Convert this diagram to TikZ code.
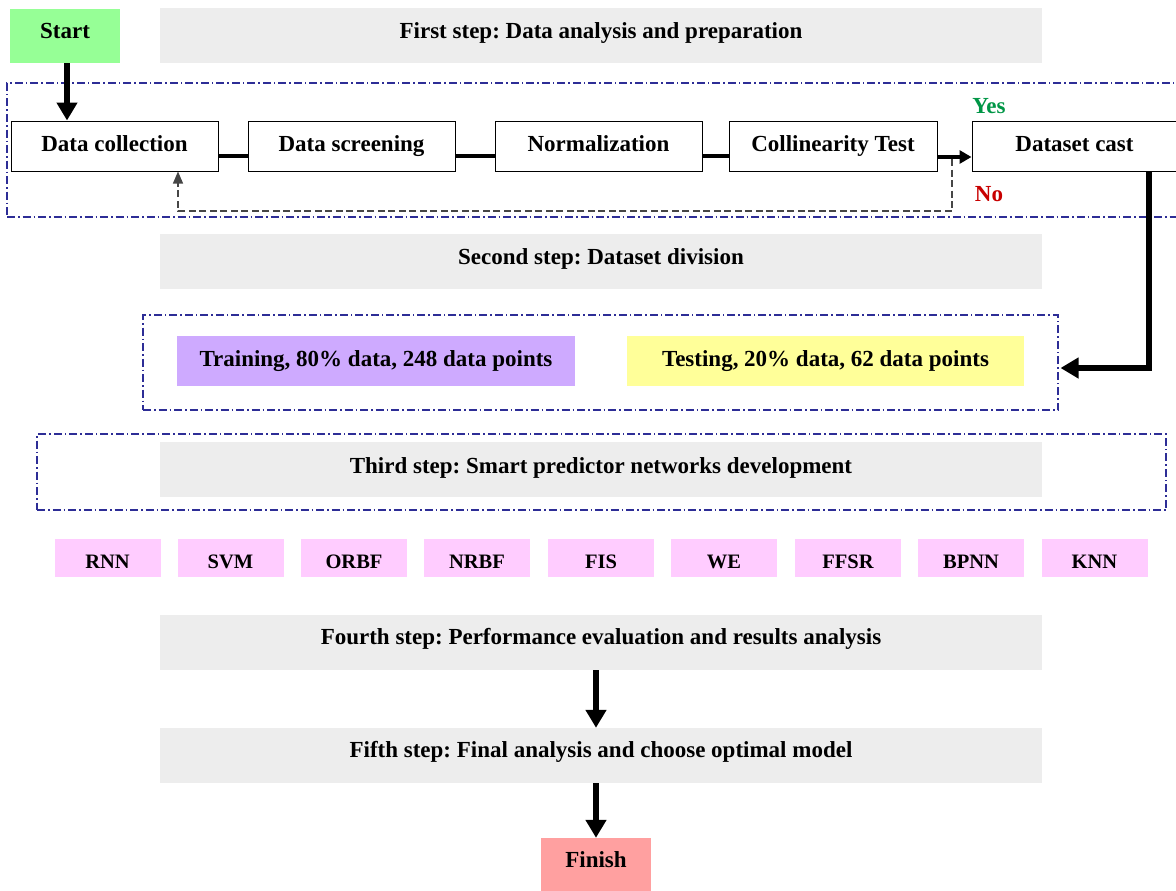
\documentclass[tikz,border=0pt]{standalone}
\usepackage{fontspec}
\setmainfont{Liberation Serif}
\usetikzlibrary{arrows.meta}
\definecolor{startgreen}{RGB}{150,255,150}
\definecolor{hdrgray}{RGB}{237,237,237}
\definecolor{trainpurple}{RGB}{206,170,255}
\definecolor{testyellow}{RGB}{255,255,153}
\definecolor{modelpink}{RGB}{255,204,255}
\definecolor{finishred}{RGB}{255,160,160}
\definecolor{framenavy}{RGB}{45,45,150}
\definecolor{yesgreen}{RGB}{0,150,70}
\definecolor{nored}{RGB}{200,0,0}
\definecolor{fbgray}{RGB}{70,70,70}
\frenchspacing
\tikzset{
  bigfont/.style={font=\fontsize{23}{27}\selectfont\bfseries, text height=16pt, text depth=5pt},
  txt/.style={inner sep=0pt, bigfont},
  fillbox/.style={draw=none, fill=#1, inner sep=0pt, bigfont},
  procbox/.style={draw=black, line width=1pt, fill=white, inner sep=0pt, minimum height=50pt, bigfont},
  modelbox/.style={draw=none, fill=modelpink, inner sep=0pt, minimum width=106pt, minimum height=38pt, font=\fontsize{20.5}{24}\selectfont\bfseries, text height=20pt, text depth=0pt},
  hdrbox/.style={draw=none, fill=hdrgray, minimum width=882pt, minimum height=55pt},
  frame/.style={draw=framenavy, line width=1.1pt, dash pattern=on 8pt off 3pt on 1.5pt off 3pt, inner sep=0pt},
  bigarrow/.style={draw=black, line width=6pt, -{Triangle[width=20pt,length=18pt]}},
  midarrow/.style={draw=black, line width=4pt, -{Triangle[width=13pt,length=12pt]}},
  link/.style={draw=black, line width=4pt},
  fback/.style={draw=fbgray, line width=1.1pt, dash pattern=on 7pt off 3.5pt, -{Triangle[width=10pt,length=12pt]}},
}
\begin{document}
\begin{tikzpicture}[x=1pt,y=-1pt]
\useasboundingbox (0,0) rectangle (1176,891);
% frames
\node[frame, minimum width=1173pt, minimum height=134pt] (fr1) at (593.5,150) {};
\node[frame, minimum width=915pt, minimum height=95pt] (fr2) at (600.5,362.5) {};
\node[frame, minimum width=1129pt, minimum height=76pt] (fr3) at (601.5,472) {};
% start and first header
\node[fillbox=startgreen, minimum width=110pt, minimum height=54pt] (start) at (65,36) {};
\node[txt] (startt) at (65,33) {Start};
\node[hdrbox] (h1) at (601,36) {};
\node[txt] (h1t) at (601,33) {First step: Data analysis and preparation};
% process row
\node[procbox, minimum width=207pt] (dc) at (114.5,146) {Data collection};
\node[procbox, minimum width=207pt] (ds) at (351.5,146) {Data screening};
\node[procbox, minimum width=207pt] (nm) at (598.5,146) {Normalization};
\node[procbox, minimum width=208pt] (ct) at (833,146) {Collinearity Test};
\node[procbox, minimum width=205pt] (dcast) at (1074.5,146) {Dataset cast};
\node[txt, text=yesgreen] (yes) at (989,108) {Yes};
\node[txt, text=nored] (no) at (989,196) {No};
% second step
\node[hdrbox] (h2) at (601,261.5) {};
\node[txt] (h2t) at (601,259) {Second step: Dataset division};
\node[fillbox=trainpurple, minimum width=398pt, minimum height=50pt] (train) at (376,361) {Training, 80\% data, 248 data points};
\node[fillbox=testyellow, minimum width=397pt, minimum height=50pt] (test) at (825.5,361) {Testing, 20\% data, 62 data points};
% third step
\node[hdrbox] (h3) at (601,469.5) {};
\node[txt] (h3t) at (601,468) {Third step: Smart predictor networks development};
% models
\node[modelbox] (rnn) at (107.5,558) {RNN};
\node[modelbox] (svm) at (230.5,558) {SVM};
\node[modelbox] (orbf) at (354,558) {ORBF};
\node[modelbox] (nrbf) at (477,558) {NRBF};
\node[modelbox] (fis) at (601,558) {FIS};
\node[modelbox] (we) at (724,558) {WE};
\node[modelbox] (ffsr) at (848,558) {FFSR};
\node[modelbox] (bpnn) at (971,558) {BPNN};
\node[modelbox] (knn) at (1094.5,558) {KNN};
% fourth and fifth
\node[hdrbox] (h4) at (601,642.5) {};
\node[txt] (h4t) at (601,639) {Fourth step: Performance evaluation and results analysis};
\node[hdrbox] (h5) at (601,755.5) {};
\node[txt] (h5t) at (601,752) {Fifth step: Final analysis and choose optimal model};
\node[fillbox=finishred, minimum width=110pt, minimum height=54pt] (finish) at (596,865) {};
\node[txt] (finisht) at (596,862) {Finish};
% connectors
\draw[bigarrow] ([xshift=2pt]start.south) -- ([xshift=-47.5pt]dc.north);
\draw[link] ([yshift=-10pt]dc.east) -- ([yshift=-10pt]ds.west);
\draw[link] ([yshift=-10pt]ds.east) -- ([yshift=-10pt]nm.west);
\draw[link] ([yshift=-10pt]nm.east) -- ([yshift=-10pt]ct.west);
\draw[midarrow] ([yshift=-11pt]ct.east) -- ([yshift=-11pt]dcast.west);
\coordinate (fb1) at (952,159);
\draw[fback] (fb1) -- (952,211) -| ([xshift=63.5pt]dc.south);
\draw[bigarrow] ([xshift=74.5pt]dcast.south) |- ([xshift=2pt,yshift=-5.5pt]fr2.east);
\draw[bigarrow] ([xshift=-5pt]h4.south) -- ([xshift=-5pt]h5.north);
\draw[bigarrow] ([xshift=-5pt]h5.south) -- (finish.north);
\end{tikzpicture}
\end{document}
